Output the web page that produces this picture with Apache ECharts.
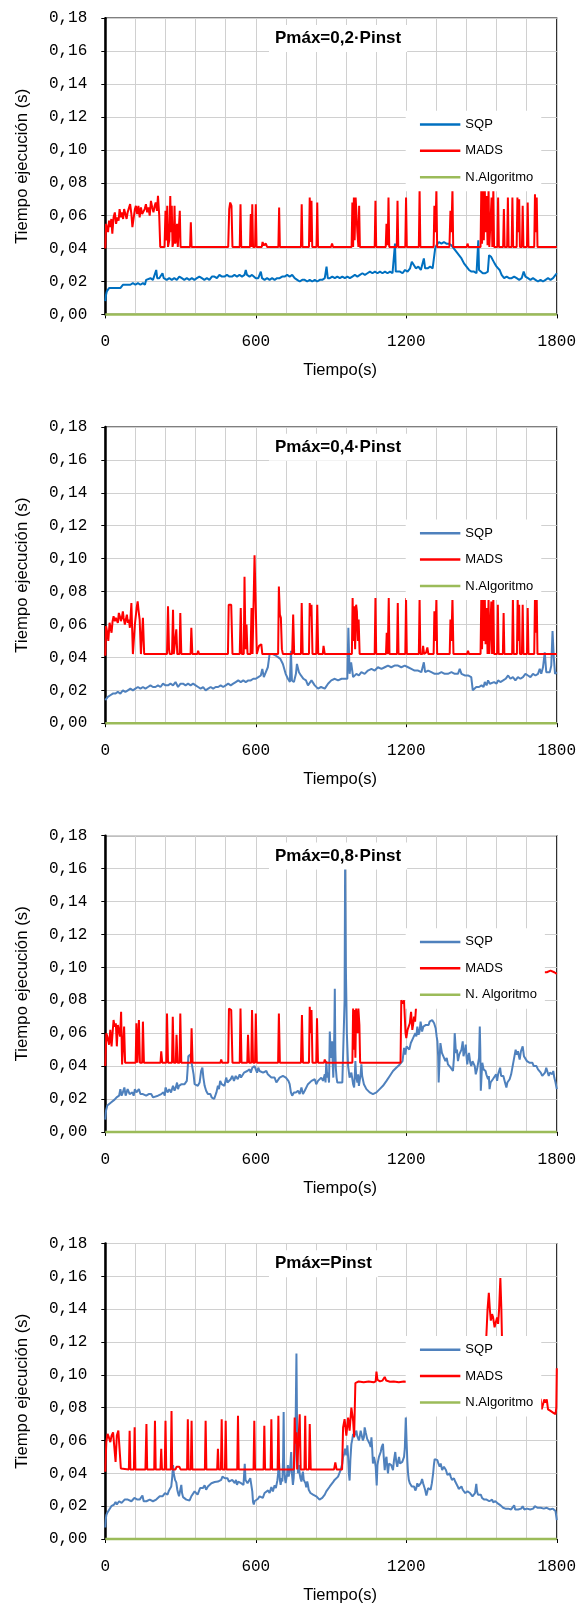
<!DOCTYPE html>
<html>
<head>
<meta charset="utf-8">
<script src="https://cdn.jsdelivr.net/npm/echarts@6/dist/echarts.min.js"></script>
<style>
html,body{margin:0;padding:0;background:#fff;}
#c{width:579px;height:1605px;}
</style>
</head>
<body>
<div id="c"></div>
<script>
// ---------- DATA ----------
const chartTitles = ['Pmáx=0,2·Pinst', 'Pmáx=0,4·Pinst', 'Pmáx=0,8·Pinst', 'Pmáx=Pinst'];
const legendNames = [
  ['SQP', 'MADS', 'N.Algoritmo'],
  ['SQP', 'MADS', 'N.Algoritmo'],
  ['SQP', 'MADS', 'N. Algoritmo'],
  ['SQP', 'MADS', 'N.Algoritmo']
];
const xTickValues = [0, 600, 1200, 1800];
const yTickValues = [0, 0.02, 0.04, 0.06, 0.08, 0.10, 0.12, 0.14, 0.16, 0.18];

const sqp1 = [[0,0.008],[3,0.012],[6,0.014],[10,0.015],[15,0.016],[20,0.017],[25,0.016],[30,0.016],[40,0.016],[50,0.016],[60,0.016],[66,0.016],[70,0.018],[80,0.018],[90,0.018],[100,0.018],[110,0.019],[120,0.018],[130,0.019],[140,0.018],[150,0.019],[158,0.018],[163,0.021],[170,0.021],[180,0.022],[190,0.021],[197,0.022],[203,0.027],[207,0.022],[215,0.022],[222,0.021],[228,0.025],[233,0.022],[245,0.021],[255,0.022],[265,0.021],[275,0.022],[285,0.021],[295,0.023],[305,0.022],[315,0.021],[325,0.022],[335,0.021],[345,0.022],[355,0.021],[365,0.022],[375,0.023],[385,0.022],[395,0.021],[405,0.022],[415,0.021],[425,0.023],[435,0.023],[445,0.022],[455,0.024],[465,0.023],[475,0.023],[485,0.024],[495,0.023],[505,0.023],[515,0.024],[525,0.023],[535,0.024],[545,0.023],[555,0.024],[560,0.027],[565,0.024],[575,0.023],[585,0.024],[592,0.023],[600,0.022],[610,0.022],[620,0.026],[625,0.022],[635,0.021],[645,0.022],[655,0.021],[665,0.022],[675,0.021],[685,0.022],[695,0.022],[705,0.023],[715,0.023],[725,0.024],[735,0.023],[745,0.024],[755,0.022],[765,0.021],[775,0.020],[785,0.021],[795,0.021],[805,0.020],[815,0.021],[825,0.020],[835,0.021],[845,0.020],[855,0.021],[865,0.021],[875,0.022],[882,0.029],[887,0.022],[895,0.022],[905,0.023],[915,0.022],[925,0.023],[935,0.022],[945,0.023],[955,0.022],[965,0.023],[975,0.022],[985,0.023],[995,0.024],[1005,0.023],[1015,0.024],[1025,0.025],[1035,0.024],[1045,0.025],[1055,0.026],[1065,0.025],[1075,0.026],[1085,0.025],[1095,0.026],[1105,0.025],[1115,0.026],[1125,0.025],[1135,0.026],[1145,0.025],[1152,0.026],[1155,0.043],[1158,0.026],[1165,0.025],[1175,0.026],[1185,0.025],[1195,0.027],[1205,0.026],[1215,0.028],[1222,0.032],[1230,0.030],[1238,0.028],[1248,0.029],[1258,0.027],[1265,0.028],[1270,0.034],[1275,0.028],[1285,0.028],[1295,0.029],[1305,0.028],[1312,0.029],[1315,0.040],[1320,0.042],[1330,0.044],[1340,0.043],[1350,0.044],[1360,0.043],[1370,0.043],[1380,0.042],[1390,0.040],[1400,0.038],[1410,0.036],[1420,0.034],[1430,0.031],[1440,0.029],[1450,0.027],[1460,0.026],[1470,0.026],[1480,0.025],[1484,0.026],[1487,0.045],[1490,0.027],[1495,0.026],[1505,0.025],[1515,0.025],[1525,0.026],[1530,0.036],[1538,0.035],[1545,0.033],[1552,0.031],[1560,0.029],[1566,0.030],[1572,0.027],[1580,0.024],[1590,0.022],[1600,0.023],[1610,0.022],[1620,0.022],[1630,0.023],[1640,0.022],[1650,0.021],[1660,0.022],[1668,0.026],[1675,0.023],[1685,0.022],[1695,0.021],[1705,0.022],[1715,0.021],[1725,0.020],[1735,0.021],[1745,0.020],[1755,0.021],[1765,0.022],[1775,0.021],[1785,0.022],[1792,0.023],[1800,0.025]];

const mads1 = [[0,0.040],[3,0.055],[7,0.056],[11,0.050],[15,0.057],[20,0.053],[24,0.058],[28,0.049],[33,0.059],[38,0.062],[43,0.055],[48,0.059],[53,0.057],[57,0.064],[62,0.059],[66,0.062],[71,0.058],[75,0.064],[80,0.061],[85,0.058],[89,0.062],[94,0.061],[99,0.067],[104,0.061],[108,0.053],[113,0.054],[118,0.064],[122,0.066],[127,0.061],[132,0.066],[137,0.059],[142,0.065],[147,0.061],[152,0.062],[157,0.064],[162,0.067],[167,0.062],[172,0.065],[177,0.060],[182,0.069],[187,0.065],[192,0.062],[197,0.066],[201,0.068],[206,0.063],[210,0.072],[215,0.060],[219,0.041],[236,0.041],[240,0.063],[243,0.045],[247,0.066],[250,0.041],[255,0.045],[259,0.072],[262,0.050],[265,0.066],[268,0.041],[273,0.045],[276,0.066],[279,0.043],[282,0.045],[286,0.055],[289,0.041],[294,0.042],[297,0.063],[300,0.041],[338,0.041],[341,0.056],[344,0.041],[490,0.041],[494,0.064],[498,0.068],[503,0.066],[507,0.041],[536,0.041],[539,0.067],[542,0.041],[577,0.041],[580,0.061],[583,0.041],[586,0.067],[589,0.041],[597,0.041],[600,0.067],[603,0.041],[624,0.041],[627,0.044],[632,0.042],[640,0.043],[645,0.041],[690,0.041],[693,0.065],[696,0.041],[780,0.041],[783,0.067],[786,0.041],[812,0.041],[815,0.071],[819,0.044],[822,0.069],[825,0.041],[842,0.041],[845,0.068],[848,0.041],[900,0.041],[904,0.043],[908,0.041],[982,0.041],[985,0.068],[988,0.041],[991,0.071],[994,0.045],[998,0.071],[1001,0.072],[1005,0.050],[1009,0.041],[1012,0.066],[1015,0.041],[1074,0.041],[1077,0.069],[1080,0.041],[1118,0.041],[1121,0.055],[1126,0.042],[1129,0.071],[1132,0.041],[1162,0.041],[1165,0.069],[1168,0.041],[1196,0.041],[1199,0.071],[1202,0.041],[1250,0.041],[1253,0.076],[1256,0.041],[1309,0.041],[1312,0.066],[1316,0.050],[1320,0.076],[1323,0.041],[1372,0.041],[1376,0.063],[1380,0.050],[1384,0.076],[1387,0.041],[1441,0.041],[1444,0.043],[1448,0.041],[1496,0.041],[1499,0.076],[1502,0.043],[1506,0.076],[1509,0.045],[1513,0.076],[1516,0.050],[1520,0.072],[1524,0.042],[1528,0.076],[1531,0.041],[1537,0.041],[1540,0.071],[1543,0.041],[1547,0.076],[1550,0.041],[1563,0.041],[1566,0.071],[1569,0.041],[1586,0.041],[1589,0.064],[1592,0.041],[1602,0.041],[1605,0.071],[1608,0.041],[1620,0.041],[1623,0.071],[1626,0.041],[1640,0.041],[1643,0.071],[1646,0.050],[1650,0.070],[1653,0.041],[1661,0.041],[1664,0.066],[1667,0.041],[1681,0.041],[1684,0.068],[1687,0.041],[1710,0.041],[1713,0.073],[1716,0.050],[1720,0.071],[1723,0.041],[1800,0.041]];

const sqp2 = [[0,0.014],[5,0.015],[10,0.016],[20,0.017],[30,0.018],[40,0.018],[50,0.019],[60,0.018],[70,0.020],[80,0.019],[90,0.020],[100,0.021],[110,0.020],[120,0.021],[130,0.022],[140,0.021],[150,0.022],[160,0.021],[170,0.022],[180,0.023],[190,0.022],[200,0.022],[210,0.023],[220,0.022],[230,0.024],[240,0.023],[250,0.023],[260,0.024],[270,0.023],[280,0.025],[290,0.022],[300,0.024],[310,0.024],[320,0.023],[330,0.024],[340,0.023],[350,0.024],[360,0.023],[370,0.022],[380,0.021],[390,0.022],[400,0.020],[410,0.021],[420,0.022],[430,0.021],[440,0.022],[450,0.022],[460,0.023],[470,0.022],[480,0.023],[490,0.024],[500,0.023],[510,0.024],[520,0.025],[530,0.026],[540,0.025],[550,0.026],[560,0.025],[570,0.026],[580,0.026],[590,0.027],[600,0.027],[610,0.028],[620,0.029],[626,0.033],[632,0.028],[640,0.031],[648,0.034],[655,0.042],[668,0.042],[680,0.041],[690,0.040],[698,0.039],[708,0.036],[719,0.030],[728,0.027],[736,0.025],[740,0.044],[744,0.026],[752,0.025],[760,0.030],[764,0.036],[772,0.031],[780,0.029],[790,0.027],[800,0.026],[808,0.023],[815,0.024],[822,0.026],[835,0.023],[848,0.021],[860,0.022],[875,0.021],[888,0.024],[901,0.026],[915,0.027],[928,0.026],[942,0.027],[955,0.027],[965,0.027],[969,0.058],[974,0.030],[980,0.037],[988,0.028],[1001,0.030],[1011,0.029],[1021,0.031],[1034,0.030],[1047,0.032],[1061,0.033],[1074,0.032],[1087,0.034],[1101,0.033],[1114,0.034],[1127,0.035],[1140,0.034],[1153,0.035],[1167,0.035],[1180,0.034],[1194,0.035],[1207,0.034],[1220,0.033],[1233,0.032],[1247,0.032],[1260,0.031],[1270,0.037],[1275,0.031],[1287,0.032],[1300,0.031],[1313,0.030],[1327,0.030],[1340,0.031],[1353,0.030],[1366,0.030],[1380,0.031],[1393,0.030],[1406,0.030],[1413,0.033],[1420,0.030],[1433,0.029],[1446,0.029],[1459,0.028],[1465,0.020],[1472,0.021],[1479,0.022],[1490,0.022],[1500,0.023],[1508,0.022],[1513,0.025],[1520,0.023],[1526,0.026],[1533,0.024],[1539,0.024],[1550,0.025],[1560,0.024],[1566,0.026],[1575,0.025],[1586,0.026],[1596,0.027],[1606,0.029],[1615,0.027],[1625,0.028],[1635,0.026],[1645,0.028],[1655,0.027],[1665,0.028],[1675,0.030],[1685,0.029],[1695,0.028],[1705,0.030],[1715,0.029],[1725,0.030],[1732,0.033],[1738,0.030],[1745,0.034],[1752,0.043],[1758,0.031],[1765,0.032],[1772,0.031],[1778,0.035],[1783,0.056],[1788,0.040],[1793,0.030],[1800,0.031]];

const mads2 = [[0,0.041],[3,0.059],[8,0.055],[12,0.050],[17,0.061],[21,0.058],[25,0.055],[29,0.062],[33,0.065],[38,0.062],[42,0.064],[46,0.064],[50,0.061],[54,0.067],[58,0.065],[62,0.062],[66,0.064],[70,0.068],[73,0.064],[78,0.060],[82,0.063],[86,0.066],[90,0.061],[94,0.063],[98,0.058],[104,0.073],[110,0.042],[118,0.060],[125,0.070],[129,0.074],[133,0.068],[137,0.063],[142,0.042],[147,0.042],[150,0.064],[155,0.042],[246,0.042],[250,0.071],[254,0.045],[257,0.042],[266,0.042],[270,0.069],[273,0.042],[280,0.042],[283,0.057],[287,0.042],[296,0.042],[299,0.067],[303,0.042],[340,0.042],[343,0.058],[347,0.042],[367,0.042],[370,0.044],[374,0.042],[430,0.042],[435,0.043],[440,0.042],[470,0.042],[475,0.043],[480,0.042],[489,0.042],[492,0.072],[502,0.072],[507,0.042],[536,0.042],[540,0.070],[544,0.042],[552,0.042],[555,0.089],[559,0.045],[563,0.060],[567,0.042],[579,0.042],[583,0.070],[587,0.042],[591,0.042],[595,0.102],[600,0.070],[604,0.042],[610,0.042],[613,0.047],[618,0.046],[622,0.048],[626,0.042],[689,0.042],[692,0.083],[696,0.066],[700,0.064],[704,0.045],[708,0.042],[745,0.042],[749,0.066],[753,0.042],[780,0.042],[783,0.073],[787,0.042],[812,0.042],[815,0.073],[818,0.065],[822,0.072],[826,0.042],[841,0.042],[845,0.072],[849,0.042],[867,0.042],[870,0.047],[875,0.042],[945,0.042],[948,0.043],[952,0.042],[983,0.042],[986,0.076],[989,0.050],[992,0.071],[996,0.045],[1000,0.072],[1003,0.068],[1007,0.050],[1010,0.063],[1014,0.042],[1074,0.042],[1077,0.076],[1080,0.042],[1119,0.042],[1122,0.055],[1126,0.042],[1130,0.076],[1133,0.042],[1163,0.042],[1166,0.073],[1169,0.042],[1196,0.042],[1199,0.076],[1202,0.042],[1250,0.042],[1253,0.076],[1256,0.042],[1264,0.042],[1267,0.047],[1271,0.042],[1279,0.043],[1284,0.046],[1288,0.042],[1309,0.042],[1312,0.068],[1316,0.050],[1320,0.076],[1323,0.042],[1373,0.042],[1376,0.063],[1380,0.050],[1384,0.076],[1388,0.042],[1442,0.042],[1446,0.044],[1450,0.042],[1496,0.042],[1499,0.076],[1502,0.045],[1506,0.076],[1509,0.050],[1513,0.076],[1516,0.048],[1520,0.070],[1524,0.042],[1528,0.076],[1531,0.042],[1536,0.042],[1539,0.074],[1542,0.042],[1547,0.076],[1550,0.042],[1562,0.042],[1565,0.072],[1568,0.042],[1585,0.042],[1588,0.067],[1591,0.042],[1622,0.042],[1625,0.076],[1628,0.042],[1641,0.042],[1644,0.076],[1647,0.050],[1650,0.072],[1653,0.042],[1661,0.042],[1664,0.072],[1667,0.042],[1681,0.042],[1684,0.070],[1687,0.042],[1710,0.042],[1713,0.076],[1716,0.055],[1720,0.076],[1723,0.042],[1800,0.042]];

const sqp3 = [[0,0.0075],[3,0.013],[8,0.016],[15,0.017],[24,0.018],[37,0.0196],[45,0.021],[50,0.022],[55,0.022],[60,0.026],[65,0.022],[70,0.024],[76,0.027],[81,0.022],[89,0.026],[97,0.023],[103,0.024],[108,0.024],[113,0.022],[118,0.026],[124,0.024],[129,0.024],[134,0.026],[140,0.023],[150,0.023],[163,0.022],[173,0.023],[183,0.023],[190,0.021],[197,0.021],[210,0.022],[223,0.023],[232,0.024],[237,0.022],[240,0.027],[248,0.024],[255,0.026],[262,0.024],[270,0.028],[276,0.025],[281,0.027],[286,0.030],[290,0.026],[294,0.028],[298,0.027],[304,0.029],[310,0.028],[316,0.029],[320,0.030],[325,0.031],[329,0.040],[331,0.046],[339,0.047],[343,0.043],[347,0.042],[352,0.035],[356,0.029],[362,0.028],[369,0.028],[376,0.030],[382,0.037],[387,0.039],[391,0.033],[396,0.028],[402,0.025],[409,0.023],[414,0.024],[419,0.023],[424,0.021],[429,0.022],[434,0.020],[437,0.021],[443,0.024],[449,0.028],[453,0.026],[458,0.031],[464,0.029],[469,0.030],[475,0.028],[482,0.033],[487,0.030],[493,0.031],[500,0.032],[506,0.034],[513,0.031],[520,0.034],[528,0.032],[536,0.035],[541,0.033],[546,0.034],[553,0.036],[559,0.036],[566,0.037],[575,0.038],[580,0.036],[586,0.039],[590,0.040],[595,0.040],[600,0.038],[605,0.036],[610,0.039],[615,0.037],[622,0.036],[629,0.036],[635,0.037],[642,0.037],[648,0.035],[655,0.034],[662,0.033],[668,0.034],[675,0.033],[682,0.030],[688,0.031],[695,0.033],[702,0.032],[708,0.034],[715,0.035],[720,0.033],[724,0.034],[730,0.031],[735,0.029],[740,0.024],[745,0.022],[752,0.024],[760,0.024],[768,0.025],[775,0.023],[782,0.027],[788,0.023],[795,0.025],[801,0.024],[808,0.029],[815,0.030],[822,0.031],[828,0.030],[835,0.032],[841,0.029],[848,0.031],[855,0.030],[861,0.033],[868,0.031],[875,0.035],[878,0.030],[881,0.043],[885,0.033],[888,0.036],[892,0.030],[895,0.061],[899,0.045],[904,0.055],[907,0.040],[909,0.033],[913,0.060],[915,0.087],[917,0.050],[919,0.039],[922,0.033],[925,0.030],[935,0.030],[945,0.030],[952,0.030],[954,0.080],[956,0.160],[959,0.100],[961,0.081],[963,0.060],[965,0.059],[968,0.040],[970,0.039],[974,0.033],[978,0.032],[981,0.036],[984,0.036],[988,0.029],[992,0.027],[995,0.035],[997,0.043],[1000,0.034],[1002,0.033],[1005,0.030],[1008,0.035],[1011,0.028],[1014,0.027],[1018,0.035],[1021,0.041],[1024,0.034],[1027,0.034],[1031,0.029],[1034,0.028],[1041,0.026],[1047,0.025],[1054,0.024],[1061,0.024],[1067,0.023],[1074,0.023],[1081,0.024],[1087,0.024],[1094,0.026],[1101,0.027],[1107,0.028],[1114,0.029],[1121,0.031],[1127,0.032],[1134,0.034],[1140,0.035],[1147,0.037],[1154,0.038],[1160,0.039],[1167,0.040],[1174,0.041],[1180,0.040],[1185,0.043],[1191,0.051],[1196,0.047],[1201,0.052],[1207,0.052],[1212,0.050],[1218,0.054],[1223,0.053],[1227,0.057],[1232,0.056],[1236,0.060],[1240,0.058],[1244,0.064],[1249,0.059],[1253,0.061],[1257,0.067],[1263,0.061],[1268,0.064],[1273,0.064],[1278,0.065],[1284,0.066],[1289,0.065],[1293,0.067],[1298,0.066],[1303,0.068],[1307,0.067],[1311,0.066],[1317,0.063],[1321,0.058],[1324,0.055],[1327,0.046],[1329,0.030],[1333,0.045],[1336,0.054],[1342,0.048],[1349,0.047],[1356,0.043],[1361,0.045],[1366,0.041],[1372,0.040],[1377,0.039],[1382,0.038],[1386,0.037],[1390,0.045],[1393,0.060],[1398,0.048],[1402,0.050],[1406,0.043],[1411,0.047],[1416,0.046],[1420,0.050],[1425,0.055],[1428,0.046],[1430,0.045],[1434,0.050],[1437,0.053],[1440,0.046],[1443,0.041],[1447,0.046],[1450,0.048],[1455,0.042],[1459,0.040],[1464,0.043],[1469,0.044],[1473,0.040],[1477,0.035],[1482,0.038],[1486,0.039],[1490,0.045],[1493,0.064],[1495,0.050],[1497,0.025],[1500,0.034],[1503,0.042],[1508,0.038],[1513,0.039],[1516,0.037],[1519,0.035],[1523,0.034],[1526,0.032],[1529,0.034],[1532,0.026],[1536,0.030],[1539,0.031],[1545,0.032],[1552,0.032],[1558,0.035],[1562,0.031],[1566,0.035],[1570,0.036],[1574,0.039],[1578,0.034],[1582,0.033],[1587,0.034],[1592,0.031],[1596,0.030],[1599,0.027],[1603,0.030],[1606,0.031],[1612,0.032],[1618,0.035],[1624,0.034],[1630,0.045],[1636,0.050],[1640,0.047],[1645,0.049],[1649,0.046],[1652,0.044],[1657,0.049],[1661,0.048],[1664,0.052],[1669,0.046],[1675,0.046],[1681,0.043],[1687,0.044],[1692,0.042],[1697,0.041],[1703,0.042],[1708,0.040],[1714,0.040],[1719,0.040],[1725,0.038],[1730,0.037],[1736,0.036],[1742,0.034],[1748,0.033],[1753,0.036],[1758,0.039],[1763,0.038],[1768,0.034],[1773,0.036],[1777,0.035],[1782,0.035],[1786,0.037],[1790,0.033],[1795,0.030],[1800,0.026]];

const mads3 = [[0,0.040],[4,0.060],[8,0.058],[11,0.057],[15,0.053],[20,0.062],[25,0.052],[29,0.060],[33,0.068],[37,0.064],[42,0.066],[46,0.052],[50,0.065],[55,0.061],[59,0.058],[63,0.073],[67,0.041],[71,0.042],[75,0.064],[79,0.042],[121,0.042],[124,0.066],[128,0.042],[131,0.042],[134,0.068],[138,0.042],[147,0.042],[150,0.067],[154,0.042],[220,0.042],[223,0.049],[227,0.042],[243,0.042],[246,0.072],[250,0.042],[266,0.042],[269,0.070],[273,0.042],[281,0.042],[284,0.059],[288,0.042],[296,0.042],[299,0.072],[303,0.042],[341,0.042],[344,0.063],[348,0.042],[459,0.042],[462,0.044],[466,0.042],[490,0.042],[493,0.075],[502,0.074],[507,0.042],[536,0.042],[539,0.075],[543,0.042],[566,0.042],[569,0.059],[573,0.042],[582,0.042],[585,0.074],[589,0.042],[597,0.042],[600,0.072],[604,0.042],[689,0.042],[692,0.072],[696,0.042],[780,0.042],[784,0.071],[788,0.042],[812,0.042],[815,0.076],[818,0.060],[822,0.074],[826,0.042],[841,0.042],[844,0.069],[848,0.042],[872,0.042],[875,0.044],[880,0.042],[885,0.043],[890,0.042],[985,0.042],[988,0.075],[991,0.050],[994,0.074],[997,0.045],[1000,0.075],[1003,0.075],[1006,0.060],[1009,0.075],[1013,0.065],[1016,0.042],[1177,0.042],[1180,0.080],[1186,0.078],[1191,0.080],[1197,0.060],[1200,0.057],[1205,0.062],[1209,0.063],[1214,0.066],[1219,0.073],[1224,0.062],[1227,0.065],[1231,0.070],[1235,0.067],[1238,0.074],[1242,0.074],[1248,0.090],[1255,0.096],[1300,0.097],[1400,0.096],[1500,0.097],[1600,0.096],[1700,0.097],[1738,0.097],[1745,0.098],[1760,0.097],[1775,0.098],[1790,0.097],[1800,0.096]];

const sqp4 = [[0,0.007],[2,0.012],[4,0.0145],[8,0.016],[11,0.0165],[16,0.018],[20,0.0175],[24,0.020],[27,0.0205],[31,0.019],[35,0.021],[41,0.0225],[46,0.021],[50,0.0215],[55,0.023],[60,0.0235],[65,0.022],[70,0.023],[77,0.024],[84,0.023],[90,0.024],[97,0.0245],[104,0.023],[110,0.024],[116,0.025],[121,0.0245],[128,0.024],[137,0.024],[143,0.025],[148,0.0265],[153,0.023],[157,0.023],[164,0.023],[170,0.022],[177,0.024],[183,0.0245],[190,0.023],[197,0.022],[203,0.024],[210,0.0245],[217,0.026],[223,0.0265],[228,0.026],[233,0.027],[238,0.028],[243,0.0275],[248,0.027],[254,0.0296],[259,0.029],[263,0.032],[267,0.038],[270,0.045],[273,0.040],[278,0.036],[283,0.0345],[287,0.030],[290,0.028],[294,0.026],[298,0.025],[303,0.033],[306,0.028],[310,0.0255],[316,0.025],[323,0.024],[330,0.024],[336,0.0235],[343,0.026],[350,0.027],[356,0.029],[363,0.0296],[368,0.027],[373,0.029],[378,0.031],[383,0.030],[389,0.031],[396,0.0327],[402,0.030],[409,0.032],[416,0.033],[423,0.034],[430,0.033],[436,0.0347],[443,0.035],[449,0.035],[456,0.036],[462,0.036],[467,0.038],[472,0.0387],[477,0.037],[482,0.036],[487,0.037],[493,0.035],[499,0.036],[506,0.036],[511,0.035],[516,0.034],[521,0.036],[525,0.033],[530,0.035],[536,0.036],[541,0.034],[546,0.035],[551,0.033],[556,0.0458],[559,0.036],[562,0.037],[567,0.034],[573,0.035],[578,0.037],[582,0.036],[586,0.029],[589,0.0225],[592,0.021],[595,0.023],[600,0.022],[609,0.0245],[615,0.026],[622,0.0265],[628,0.025],[635,0.028],[642,0.027],[649,0.0296],[655,0.028],[662,0.0316],[668,0.029],[675,0.0327],[680,0.031],[686,0.0357],[689,0.040],[692,0.0489],[696,0.036],[699,0.033],[703,0.037],[706,0.035],[709,0.050],[711,0.0773],[713,0.045],[716,0.037],[719,0.034],[722,0.033],[725,0.040],[728,0.045],[731,0.038],[735,0.041],[738,0.046],[741,0.053],[744,0.040],[748,0.033],[751,0.037],[755,0.037],[758,0.060],[762,0.113],[765,0.060],[768,0.040],[772,0.045],[775,0.0396],[778,0.037],[782,0.035],[785,0.039],[788,0.041],[791,0.036],[795,0.037],[798,0.034],[801,0.0315],[805,0.035],[808,0.033],[811,0.030],[815,0.031],[818,0.028],[822,0.0285],[828,0.027],[835,0.027],[841,0.026],[848,0.0255],[854,0.024],[861,0.0235],[865,0.025],[868,0.026],[875,0.027],[881,0.029],[888,0.030],[895,0.032],[901,0.033],[908,0.0346],[914,0.036],[921,0.037],[928,0.038],[934,0.0386],[938,0.042],[941,0.0437],[945,0.046],[948,0.050],[952,0.0518],[956,0.055],[961,0.051],[965,0.057],[968,0.050],[971,0.040],[974,0.0356],[977,0.048],[981,0.0578],[985,0.061],[988,0.064],[991,0.062],[994,0.061],[997,0.063],[1001,0.066],[1004,0.063],[1008,0.064],[1011,0.060],[1014,0.062],[1018,0.066],[1021,0.064],[1024,0.063],[1027,0.060],[1031,0.062],[1034,0.068],[1038,0.065],[1041,0.064],[1044,0.061],[1047,0.062],[1051,0.060],[1054,0.058],[1058,0.056],[1061,0.062],[1064,0.055],[1067,0.046],[1071,0.050],[1074,0.048],[1078,0.044],[1082,0.0326],[1085,0.045],[1087,0.047],[1091,0.050],[1094,0.049],[1098,0.053],[1102,0.056],[1107,0.058],[1110,0.050],[1114,0.042],[1117,0.048],[1121,0.050],[1124,0.044],[1127,0.040],[1131,0.046],[1134,0.047],[1140,0.045],[1147,0.042],[1151,0.048],[1156,0.053],[1160,0.047],[1164,0.044],[1167,0.047],[1171,0.050],[1175,0.046],[1180,0.045],[1184,0.047],[1187,0.046],[1191,0.050],[1194,0.055],[1198,0.074],[1201,0.060],[1204,0.048],[1207,0.040],[1210,0.036],[1214,0.034],[1218,0.0336],[1222,0.032],[1227,0.031],[1231,0.032],[1236,0.0295],[1240,0.031],[1244,0.034],[1248,0.032],[1253,0.031],[1258,0.034],[1263,0.0366],[1267,0.034],[1271,0.033],[1275,0.030],[1280,0.0265],[1284,0.029],[1287,0.031],[1292,0.030],[1297,0.030],[1302,0.034],[1307,0.040],[1310,0.045],[1313,0.0487],[1318,0.049],[1324,0.048],[1328,0.046],[1333,0.044],[1337,0.046],[1340,0.045],[1343,0.042],[1346,0.042],[1350,0.044],[1353,0.044],[1358,0.042],[1364,0.039],[1368,0.040],[1373,0.040],[1377,0.038],[1382,0.036],[1386,0.037],[1390,0.037],[1395,0.035],[1400,0.034],[1405,0.032],[1409,0.0305],[1414,0.031],[1420,0.032],[1425,0.030],[1430,0.029],[1435,0.028],[1439,0.028],[1444,0.029],[1449,0.030],[1454,0.028],[1459,0.028],[1464,0.026],[1469,0.026],[1474,0.028],[1479,0.0336],[1482,0.029],[1486,0.027],[1491,0.028],[1497,0.027],[1502,0.025],[1506,0.025],[1511,0.024],[1515,0.023],[1520,0.024],[1526,0.024],[1531,0.023],[1537,0.023],[1542,0.024],[1546,0.0224],[1551,0.023],[1555,0.023],[1560,0.022],[1566,0.0215],[1571,0.021],[1576,0.0205],[1581,0.020],[1586,0.019],[1590,0.019],[1595,0.0185],[1600,0.019],[1606,0.0185],[1612,0.019],[1618,0.018],[1624,0.019],[1630,0.0205],[1634,0.018],[1640,0.019],[1646,0.018],[1652,0.019],[1658,0.0185],[1664,0.020],[1670,0.018],[1676,0.019],[1682,0.0185],[1688,0.019],[1694,0.018],[1700,0.019],[1706,0.0185],[1712,0.020],[1718,0.019],[1724,0.019],[1730,0.0185],[1736,0.019],[1742,0.018],[1748,0.0185],[1754,0.018],[1760,0.019],[1766,0.0185],[1772,0.018],[1778,0.019],[1784,0.0185],[1790,0.018],[1795,0.017],[1800,0.0115]];

const mads4 = [[0,0.041],[4,0.059],[9,0.064],[14,0.062],[20,0.059],[25,0.063],[31,0.065],[36,0.064],[41,0.047],[46,0.063],[52,0.066],[57,0.067],[62,0.043],[66,0.0424],[94,0.0424],[97,0.066],[100,0.0424],[114,0.0424],[117,0.068],[120,0.0424],[160,0.0424],[164,0.070],[167,0.0424],[195,0.0424],[198,0.072],[201,0.0424],[220,0.0424],[223,0.055],[226,0.0424],[237,0.0424],[240,0.072],[243,0.0424],[261,0.0424],[264,0.078],[267,0.0424],[280,0.0424],[284,0.044],[288,0.043],[295,0.044],[300,0.0424],[326,0.0424],[329,0.073],[332,0.0424],[341,0.0424],[344,0.072],[347,0.0424],[360,0.0424],[365,0.043],[370,0.0424],[397,0.0424],[400,0.072],[403,0.0424],[446,0.0424],[449,0.055],[452,0.0424],[461,0.0424],[464,0.073],[467,0.0424],[477,0.0424],[480,0.072],[483,0.0424],[526,0.0424],[529,0.075],[532,0.0424],[591,0.0424],[594,0.072],[597,0.0424],[631,0.0424],[634,0.069],[637,0.0424],[659,0.0424],[662,0.073],[665,0.0424],[687,0.0424],[690,0.075],[693,0.0424],[752,0.0424],[755,0.074],[758,0.058],[762,0.065],[765,0.0424],[772,0.0424],[775,0.076],[779,0.0424],[794,0.0424],[797,0.075],[800,0.0424],[812,0.0424],[815,0.070],[819,0.0424],[860,0.0424],[865,0.043],[870,0.0424],[912,0.0424],[917,0.0467],[922,0.0424],[944,0.0424],[948,0.068],[954,0.073],[961,0.063],[968,0.074],[974,0.066],[981,0.080],[988,0.072],[992,0.062],[997,0.095],[1010,0.096],[1030,0.0955],[1050,0.096],[1070,0.0955],[1078,0.096],[1081,0.102],[1085,0.097],[1095,0.096],[1105,0.0965],[1114,0.0987],[1120,0.0965],[1135,0.0958],[1150,0.096],[1170,0.0955],[1190,0.096],[1200,0.0958],[1250,0.096],[1300,0.096],[1400,0.096],[1480,0.096],[1510,0.100],[1519,0.123],[1524,0.140],[1529,0.150],[1533,0.140],[1537,0.133],[1542,0.137],[1546,0.135],[1552,0.129],[1557,0.132],[1562,0.135],[1566,0.131],[1570,0.140],[1575,0.159],[1579,0.140],[1582,0.118],[1600,0.100],[1650,0.095],[1700,0.090],[1736,0.085],[1740,0.079],[1745,0.082],[1750,0.085],[1755,0.083],[1760,0.085],[1765,0.079],[1770,0.080],[1775,0.078],[1780,0.079],[1785,0.077],[1790,0.078],[1795,0.076],[1798,0.080],[1800,0.104]];

const nAlg = [[0,0],[1800,0]];

const sqpSeries = [sqp1, sqp2, sqp3, sqp4];
const madsSeries = [mads1, mads2, mads3, mads4];

// ---------- LAYOUT / STYLE ----------
const sqpColors = ['#0070C0', '#4F81BD', '#4F81BD', '#4F81BD'];
const madsColor = '#FF0000';
const nAlgColor = '#9BBB59';
const gridColor = '#D0D0D0';
const plotTops = [18.2, 427, 835.7, 1243.5];
const plotLeft = 105.3, plotWidth = 454.5, plotHeight = 296.2;

const chart = echarts.init(document.getElementById('c'), null, {renderer: 'canvas', width: 579, height: 1605});

const grids = [], xAxes = [], yAxes = [], series = [], titles = [], legends = [];
for (let k = 0; k < 4; k++) {
  const T = plotTops[k];
  grids.push({left: plotLeft, top: T, width: plotWidth, height: plotHeight, show: true, borderColor: '#000', borderWidth: 1.2, backgroundColor: 'transparent'});
  xAxes.push({
    type: 'value', gridIndex: k, min: xTickValues[0], max: xTickValues[xTickValues.length - 1], interval: xTickValues[1] - xTickValues[0],
    axisLine: {show: true, onZero: false, lineStyle: {color: '#000', width: 1}},
    axisTick: {show: true, length: 4, lineStyle: {color: '#000', width: 1}},
    minorTick: {show: false, splitNumber: 5},
    splitLine: {show: true, lineStyle: {color: gridColor, width: 1}},
    minorSplitLine: {show: true, lineStyle: {color: gridColor, width: 1}},
    axisLabel: {margin: 19.5, fontFamily: 'Liberation Mono', fontSize: 16, color: '#000', formatter: v => String(Math.round(v))},
    name: 'Tiempo(s)', nameLocation: 'middle', nameGap: 48,
    nameTextStyle: {fontFamily: 'Liberation Sans', fontSize: 16.5, color: '#000', padding: [0, 0, 0, 18]}
  });
  yAxes.push({
    type: 'value', gridIndex: k, min: yTickValues[0], max: yTickValues[yTickValues.length - 1], interval: 0.02,
    axisLine: {show: true, lineStyle: {color: '#000', width: 2.5}},
    axisTick: {show: true, length: 4, lineStyle: {color: '#000', width: 1}},
    splitLine: {show: true, lineStyle: {color: gridColor, width: 1}},
    axisLabel: {margin: 18, fontFamily: 'Liberation Mono', fontSize: 16, color: '#000',
      formatter: v => v.toFixed(2).replace('.', ',')},
    name: 'Tiempo ejecución (s)', nameLocation: 'middle', nameGap: 74,
    nameTextStyle: {fontFamily: 'Liberation Sans', fontSize: 16.8, color: '#000'}
  });
  const names = legendNames[k];
  series.push({type: 'line', name: names[0], xAxisIndex: k, yAxisIndex: k, data: sqpSeries[k], symbol: 'none', lineStyle: {color: sqpColors[k], width: 2}, itemStyle: {color: sqpColors[k]}, z: 2});
  series.push({type: 'line', name: names[1], xAxisIndex: k, yAxisIndex: k, data: madsSeries[k], symbol: 'none', lineStyle: {color: madsColor, width: 2}, itemStyle: {color: madsColor}, z: 3});
  series.push({type: 'line', name: names[2], xAxisIndex: k, yAxisIndex: k, data: nAlg, symbol: 'none', clip: false, lineStyle: {color: nAlgColor, width: 2.5}, itemStyle: {color: nAlgColor}, z: 4});
  titles.push({
    text: chartTitles[k], left: 269, top: T + 6.8, backgroundColor: '#fff', padding: [5, 6, 5, 6],
    textStyle: {fontFamily: 'Liberation Sans', fontWeight: 'bold', fontSize: 17, color: '#000'}
  });
  const legendIconStyle = c => ({itemStyle: {color: c, opacity: 0, borderWidth: 0}, lineStyle: {color: c, width: 2.5, opacity: 1}});
  legends.push({
    show: true, orient: 'vertical', left: 405.7, top: T + 92.5, backgroundColor: '#fff',
    padding: [7.2, 8, 7.5, 13], itemWidth: 40.4, itemHeight: 14, itemGap: 13.4, selectedMode: false, z: 10,
    textStyle: {fontFamily: 'Liberation Sans', fontSize: 13, color: '#000'},
    data: [
      Object.assign({name: names[0]}, legendIconStyle(sqpColors[k])),
      Object.assign({name: names[1]}, legendIconStyle(madsColor)),
      Object.assign({name: names[2]}, legendIconStyle(nAlgColor))
    ]
  });
}

chart.setOption({
  animation: false,
  backgroundColor: '#fff',
  title: titles,
  legend: legends,
  grid: grids,
  xAxis: xAxes,
  yAxis: yAxes,
  series: series
});
</script>
</body>
</html>
